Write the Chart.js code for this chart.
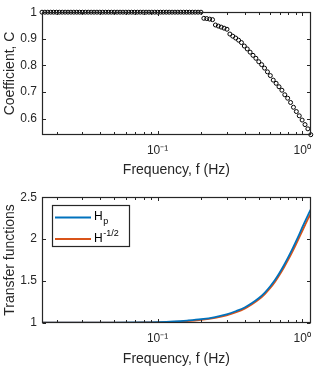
<!DOCTYPE html>
<html><head><meta charset="utf-8">
<script src="https://cdn.jsdelivr.net/npm/chart.js@4.4.1/dist/chart.umd.min.js"></script>
<style>
html,body{margin:0;padding:0;background:#fff;}
#w{position:relative;width:320px;height:371px;overflow:hidden;}
canvas{position:absolute;left:0;}
</style></head>
<body><div id="w">
<canvas id="c1" width="320" height="185" style="top:0;width:320px;height:185px"></canvas>
<canvas id="c2" width="320" height="186" style="top:185px;width:320px;height:186px"></canvas>
</div>
<script>
// ---- data ----
const freqC = [0.01585,0.01660,0.01738,0.01820,0.01905,0.01995,0.02089,0.02188,0.02291,0.02399,
 0.02512,0.02630,0.02754,0.02884,0.03020,0.03162,0.03311,0.03467,0.03631,0.03802,
 0.03981,0.04169,0.04365,0.04571,0.04786,0.05012,0.05248,0.05495,0.05754,0.06026,
 0.06310,0.06607,0.06918,0.07244,0.07586,0.07943,0.08318,0.08710,0.09120,0.09550,
 0.1000,0.1047,0.1096,0.1148,0.1202,0.1259,0.1318,0.1380,0.1445,0.1514,
 0.1585,0.1660,0.1738,0.1820,0.1905,0.1995,
 0.2089,0.2188,0.2291,0.2399,0.2512,0.2630,0.2754,0.2884,0.3020,0.3162,
 0.3311,0.3467,0.3631,0.3802,0.3981,0.4169,0.4365,0.4571,0.4786,0.5012,
 0.5248,0.5495,0.5754,0.6026,0.6310,0.6607,0.6918,0.7244,0.7586,0.7943,
 0.8318,0.8710,0.9120,0.9550,1.0000,1.0470,1.0960,1.1480];
const coefC = [1,1,1,1,1,1,1,1,1,1,
 1,1,1,1,1,1,1,1,1,1,
 1,1,1,1,1,1,1,1,1,1,
 1,1,1,1,1,1,1,1,1,1,
 1,1,1,1,1,1,1,1,1,1,
 1,1,1,1,1,1,
 0.977,0.976,0.974,0.972,0.952,0.948,0.944,0.940,0.936,0.918,
 0.910,0.903,0.895,0.886,0.873,0.862,0.850,0.838,0.827,0.814,
 0.803,0.790,0.776,0.762,0.745,0.733,0.720,0.707,0.690,0.677,
 0.661,0.643,0.627,0.611,0.595,0.578,0.562,0.540];

const freqH = [0.01585,0.03,0.05,0.07,0.1,0.13,0.16,0.2,0.25,0.3,0.35,0.4,0.45,0.5,0.55,0.6,0.65,0.7,0.75,0.8,0.85,0.9,0.95,1.0,1.05,1.1,1.148];
const hP    = [1.000,1.000,1.001,1.003,1.007,1.015,1.026,1.042,1.068,1.100,1.140,1.182,1.235,1.292,1.357,1.432,1.512,1.600,1.690,1.780,1.870,1.960,2.048,2.135,2.215,2.290,2.355];
const hInv  = [1.000,1.000,1.000,1.002,1.005,1.011,1.020,1.035,1.058,1.088,1.126,1.168,1.220,1.276,1.340,1.412,1.490,1.575,1.662,1.750,1.838,1.925,2.010,2.093,2.170,2.243,2.305];

const xMin = 0.01585, xMax = 1.148;
const xMajorTicks = [0.1, 1];
const xMinorTicks = [0.02,0.03,0.04,0.05,0.06,0.07,0.08,0.09,0.2,0.3,0.4,0.5,0.6,0.7,0.8,0.9];
const xTickLabels = {'0.1':'10\u207B\u00B9', '1':'10\u2070'};
const yTicksC = [0.6,0.7,0.8,0.9,1];
const yTicksH = [1,1.5,2,2.5];
const yRangeC = [0.54, 1];
const yRangeH = [1, 2.5];

const FONT = '"Liberation Sans", Arial, Helvetica, sans-serif';
const AX = '#262626';

// ---- draw MATLAB-like box with inward ticks ----
const boxPlugin = {
  id: 'matBox',
  afterDatasetsDraw(chart, args, o) {
    const {ctx, chartArea: a} = chart;
    const xs = chart.scales.x, ys = chart.scales.y;
    const L = Math.round(a.left) + 0.5, R = Math.round(a.right) - 0.5;
    const T = Math.round(a.top) + 0.5, B = Math.round(a.bottom) - 0.5;
    ctx.save();
    ctx.strokeStyle = AX; ctx.lineWidth = 1;
    ctx.beginPath();
    const tick = (vals, len) => {
      vals.forEach(v => {
        const p = Math.round(xs.getPixelForValue(v)) + 0.5;
        ctx.moveTo(p, B); ctx.lineTo(p, B - len);
        ctx.moveTo(p, T); ctx.lineTo(p, T + len);
      });
    };
    tick(xMajorTicks, 3.5);
    tick(xMinorTicks, 2.5);
    o.yTicks.forEach(v => {
      const p = Math.round(ys.getPixelForValue(v)) + 0.5;
      ctx.moveTo(L, p); ctx.lineTo(L + 3.5, p);
      ctx.moveTo(R, p); ctx.lineTo(R - 3.5, p);
    });
    ctx.stroke();
    ctx.lineWidth = 1.2;
    ctx.strokeRect(L, T, R - L, B - T);
    ctx.restore();
  }
};

// ---- legend with sub/superscripts ----
const legendPlugin = {
  id: 'matLegend',
  afterDraw(chart, args, o) {
    if (!o.show) return;
    const {ctx, chartArea: a} = chart;
    const ds = chart.data.datasets;
    const lx = Math.round(a.left + 9.7) + 0.5, ly = Math.round(a.top + 7.5) + 0.5;
    const lw = 77, lh = 41;
    ctx.save();
    ctx.fillStyle = '#fff'; ctx.fillRect(lx, ly, lw, lh);
    ctx.strokeStyle = AX; ctx.lineWidth = 1.2; ctx.strokeRect(lx, ly, lw, lh);
    const rows = [{y: 12, base: 14.5}, {y: 33.5, base: 36}];
    rows.forEach((r, i) => {
      ctx.strokeStyle = ds[i].borderColor; ctx.lineWidth = 1.8;
      ctx.beginPath(); ctx.moveTo(lx + 2.5, ly + r.y); ctx.lineTo(lx + 38.5, ly + r.y); ctx.stroke();
      ctx.fillStyle = '#000'; ctx.textBaseline = 'alphabetic'; ctx.textAlign = 'left';
      ctx.font = '12px ' + FONT;
      const tx = lx + 41.5;
      ctx.fillText(ds[i].labelMain, tx, ly + r.base);
      const w = ctx.measureText(ds[i].labelMain).width;
      ctx.font = '9px ' + FONT;
      if (ds[i].labelSub) ctx.fillText(ds[i].labelSub, tx + w + 0.5, ly + r.base + 3.5);
      if (ds[i].labelSup) ctx.fillText(ds[i].labelSup, tx + w + 0.5, ly + r.base - 5.5);
    });
    ctx.restore();
  }
};

function xScale(h, titlePadBottom) {
  return {
    type: 'logarithmic', min: xMin, max: xMax,
    afterFit(s) { s.height = h; },
    afterBuildTicks(s) { s.ticks = xMinorTicks.concat(xMajorTicks).sort((a,b)=>a-b).map(v => ({value: v})); },
    grid: {display: false, drawTicks: false}, border: {display: false},
    ticks: {
      autoSkip: false, maxRotation: 0, minRotation: 0, padding: 9,
      color: AX, font: {family: FONT, size: 12},
      callback(v) { return xTickLabels[String(v)] || ''; }
    },
    title: {display: true, text: 'Frequency, f (Hz)', color: AX,
      font: {family: FONT, size: 14}, padding: {top: 0, bottom: titlePadBottom}}
  };
}
function yScale(range, ticks, title) {
  return {
    type: 'linear', min: range[0], max: range[1],
    afterFit(s) { s.width = 42; },
    afterBuildTicks(s) { s.ticks = ticks.map(v => ({value: v})); },
    grid: {display: false, drawTicks: false}, border: {display: false},
    ticks: {padding: 5, color: AX, font: {family: FONT, size: 12},
      callback(v) { return String(v); }},
    title: {display: true, text: title, color: AX,
      font: {family: FONT, size: 14}, padding: {top: 1.6, bottom: 0}}
  };
}

new Chart(document.getElementById('c1'), {
  type: 'line',
  data: {datasets: [{
    label: 'C',
    data: freqC.map((f, i) => ({x: f, y: coefC[i]})),
    showLine: false, pointStyle: 'circle', pointRadius: 2, pointBorderWidth: 1,
    pointBorderColor: '#000', pointBackgroundColor: 'rgba(0,0,0,0)',
    borderColor: '#000', clip: false
  }]},
  options: {
    responsive: false, animation: false, devicePixelRatio: 1,
    layout: {padding: {left: 0, right: 6, top: 9.6, bottom: 0}},
    plugins: {legend: {display: false}, tooltip: {enabled: false}, matBox: {yTicks: yTicksC}, matLegend: {show: false}},
    scales: {x: xScale(50.3, 6.6), y: yScale(yRangeC, yTicksC, 'Coefficient, C')}
  },
  plugins: [boxPlugin, legendPlugin]
});

new Chart(document.getElementById('c2'), {
  type: 'line',
  data: {datasets: [
    {label: 'Hp', labelMain: 'H', labelSub: 'p', data: freqH.map((f, i) => ({x: f, y: hP[i]})),
     borderColor: '#0072BD', borderWidth: 1.8, pointRadius: 0, cubicInterpolationMode: 'monotone', fill: false},
    {label: 'H^-1/2', labelMain: 'H', labelSup: '-1/2', data: freqH.map((f, i) => ({x: f, y: hInv[i]})),
     borderColor: '#D95319', borderWidth: 1.8, pointRadius: 0, cubicInterpolationMode: 'monotone', fill: false}
  ]},
  options: {
    responsive: false, animation: false, devicePixelRatio: 1,
    layout: {padding: {left: 0, right: 6, top: 11.5, bottom: 0}},
    plugins: {legend: {display: false}, tooltip: {enabled: false}, matBox: {yTicks: yTicksH}, matLegend: {show: true}},
    scales: {x: xScale(48.3, 3.6), y: yScale(yRangeH, yTicksH, 'Transfer functions')}
  },
  plugins: [boxPlugin, legendPlugin]
});
</script>
</body></html>
